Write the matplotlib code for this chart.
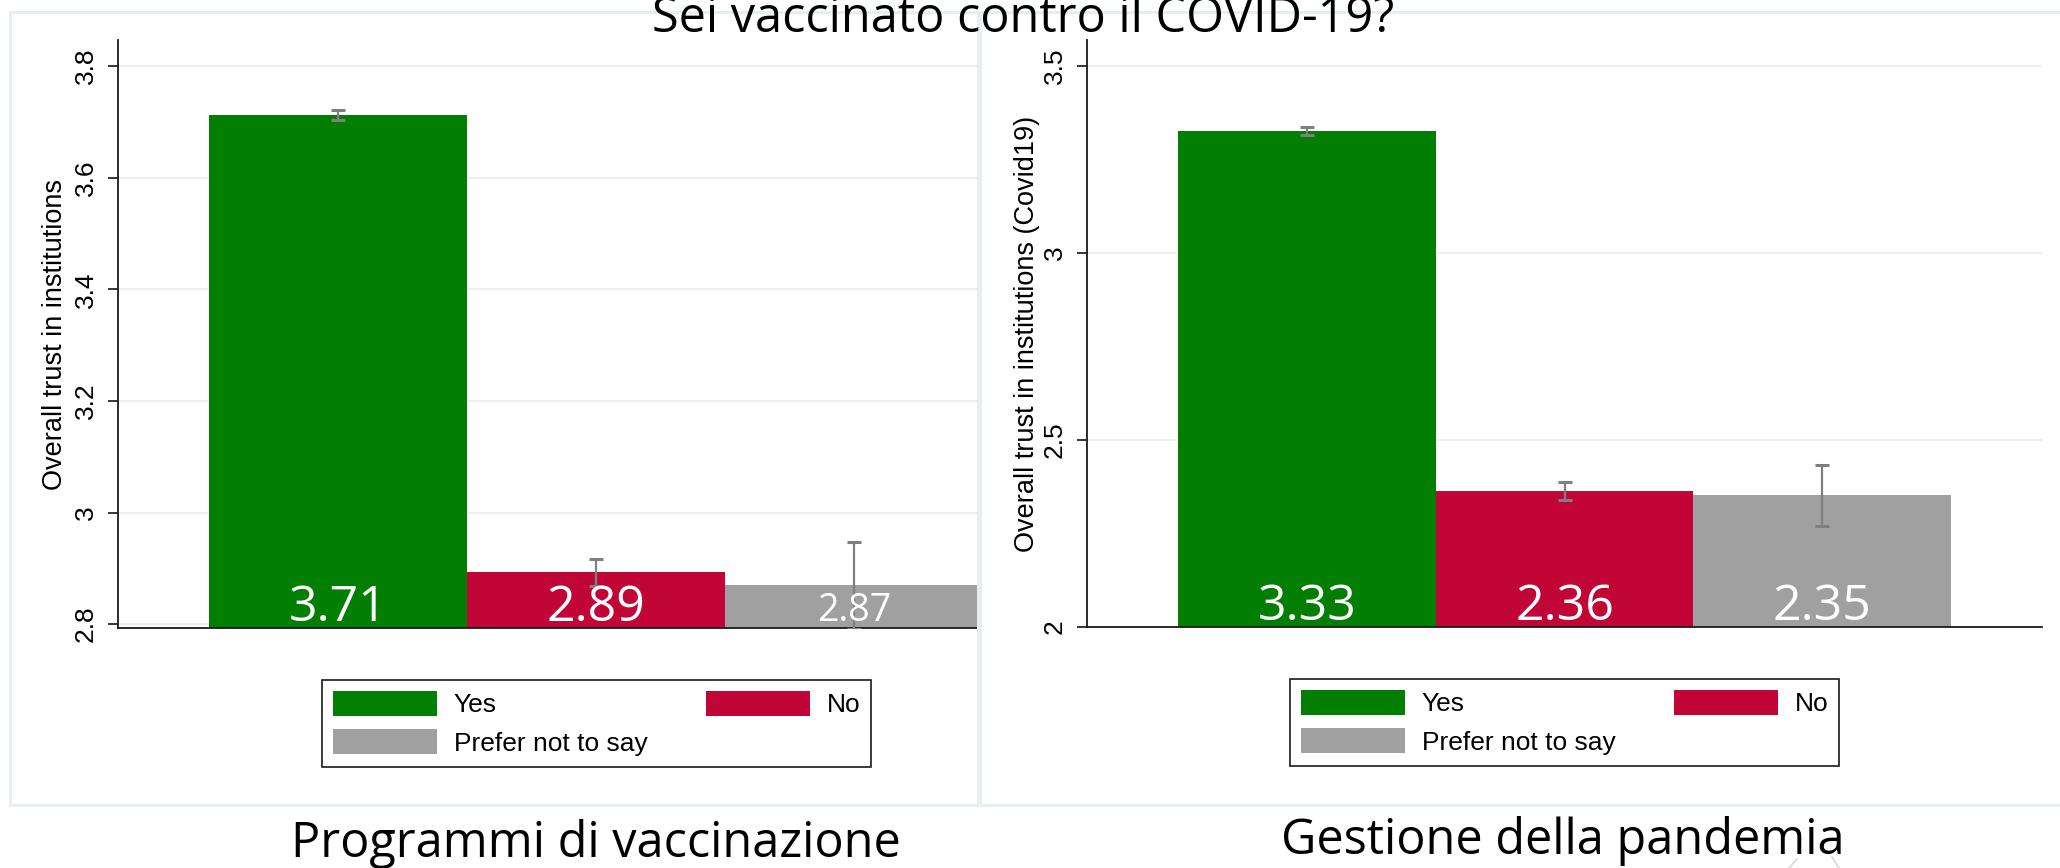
#!/usr/bin/env python3
import matplotlib
matplotlib.use("Agg")
import matplotlib.pyplot as plt
from matplotlib.patches import Patch, Rectangle
from matplotlib.lines import Line2D
from matplotlib.ticker import FuncFormatter

# ── DATA ─────────────────────────────────────────────────────────────────────
TITLE = "Sei vaccinato contro il COVID-19?"
GROUPS = ["Yes", "No", "Prefer not to say"]

VAX_TITLE = "Programmi di vaccinazione"
VAX_YLABEL = "Overall trust in institutions"
VAX_MEANS = [3.712, 2.893, 2.870]
VAX_CI = [0.009, 0.024, 0.078]
VAX_TICKS = [2.8, 3.0, 3.2, 3.4, 3.6, 3.8]

PAND_TITLE = "Gestione della pandemia"
PAND_YLABEL = "Overall trust in institutions (Covid19)"
PAND_MEANS = [3.327, 2.364, 2.352]
PAND_CI = [0.011, 0.024, 0.082]
PAND_TICKS = [2.0, 2.5, 3.0, 3.5]
# ─────────────────────────────────────────────────────────────────────────────

COLORS = ["#027f03", "#c10637", "#a0a0a0"]
W, H = 2060, 868
SANS = ["Liberation Sans", "DejaVu Sans"]
EC = ["Open Sans", "DejaVu Sans"]
FRAME = "#e6eef0"


def fx(px):
    return px / W


def fy(py):
    return 1 - py / H


def draw_panel(fig, box, means, ci, ticks, ylim, xlim, ylabel, ylabel_x,
               label_sizes, legend_xy):
    x0, y0, x1, y1 = box
    ax = fig.add_axes([fx(x0), fy(y1), fx(x1 - x0), (y1 - y0) / H])
    ax.set_facecolor("white")
    pos = list(range(len(means)))

    ax.bar(pos, means, width=1.0, color=COLORS, zorder=2)
    ax.errorbar(pos, means, yerr=ci, fmt="none", ecolor="#7f7f7f",
                elinewidth=1.6, capsize=4.7, capthick=2.2, zorder=3)

    # value labels sit at the foot of each bar
    for p, m, fs in zip(pos, means, label_sizes):
        ax.annotate(f"{m:.2f}", (p, 0), xycoords=("data", "axes fraction"),
                    xytext=(0, 5), textcoords="offset points",
                    ha="center", va="baseline", color="white",
                    fontsize=fs, family=EC, zorder=4, annotation_clip=False)

    ax.set_xlim(*xlim)
    ax.set_ylim(*ylim)
    ax.set_xticks([])
    ax.set_yticks(ticks)
    ax.yaxis.set_major_formatter(FuncFormatter(lambda v, _: f"{v:g}"))
    ax.tick_params(axis="y", direction="out", length=7.5, width=1.1,
                   pad=7, labelsize=19, labelrotation=90)
    for lab in ax.get_yticklabels():
        lab.set_family(SANS)
        lab.set_va("center")
    ax.grid(axis="y", color="#eaf0f2", linewidth=1.5, zorder=0)
    ax.set_axisbelow(True)
    for s in ["top", "right"]:
        ax.spines[s].set_visible(False)
    for s in ["left", "bottom"]:
        ax.spines[s].set_linewidth(1.3)
        ax.spines[s].set_color("#1a1a1a")

    ax.set_ylabel(ylabel, fontsize=19.5, family=SANS)
    ax.yaxis.label.set_va("center")
    ax.yaxis.set_label_coords((ylabel_x - x0) / (x1 - x0), 0.5)

    handles = [Patch(facecolor=COLORS[0]), Patch(facecolor=COLORS[2]),
               Patch(facecolor=COLORS[1])]
    labels = [GROUPS[0], GROUPS[2], GROUPS[1]]
    leg = ax.legend(handles, labels, loc="upper left",
                    bbox_to_anchor=(fx(legend_xy[0]), fy(legend_xy[1])),
                    bbox_transform=fig.transFigure, ncol=2,
                    prop={"family": SANS, "size": 19},
                    handlelength=3.94, handleheight=1.06, handletextpad=0.64,
                    columnspacing=2.2, labelspacing=0.45, borderpad=0.42,
                    borderaxespad=0, fancybox=False, framealpha=1)
    leg.get_frame().set_edgecolor("#1a1a1a")
    leg.get_frame().set_linewidth(1.2)
    return ax


def main():
    fig = plt.figure(figsize=(W / 100, H / 100), dpi=100)
    fig.patch.set_facecolor("white")

    # light panel frames
    fig.add_artist(Rectangle((fx(10), fy(805)), fx(968), (805 - 12) / H,
                             transform=fig.transFigure, fill=False,
                             edgecolor=FRAME, linewidth=2.2))
    fig.add_artist(Rectangle((fx(980), fy(805)), fx(1100), (805 - 12) / H,
                             transform=fig.transFigure, fill=False,
                             edgecolor=FRAME, linewidth=2.2))

    draw_panel(fig, (118, 40, 979, 628), VAX_MEANS, VAX_CI, VAX_TICKS,
               (2.793, 3.847), (-0.853, 2.484), VAX_YLABEL, 55,
               [36, 36, 27], (322, 680))
    draw_panel(fig, (1087, 40, 2042, 627), PAND_MEANS, PAND_CI, PAND_TICKS,
               (2.0, 3.57), (-0.854, 2.854), PAND_YLABEL, 1027,
               [36, 36, 36], (1290, 679))

    # overall question, its top runs off the edge as in the source
    fig.text(fx(1023), fy(32), TITLE, ha="center", va="baseline",
             fontsize=35, family=EC)
    fig.text(fx(596), fy(857), VAX_TITLE, ha="center", va="baseline",
             fontsize=35, family=EC)
    fig.text(fx(1563), fy(854), PAND_TITLE, ha="center", va="baseline",
             fontsize=35, family=EC)

    # faint mark peeking in at the bottom edge
    for xs, ys in [((1789, 1797), (868, 859)), ((1832, 1839), (857, 868))]:
        fig.add_artist(Line2D([fx(x) for x in xs], [fy(y) for y in ys],
                              transform=fig.transFigure, color="#d8d8d8",
                              linewidth=1.2))

    fig.savefig("out.png", dpi=100, facecolor="white")


if __name__ == "__main__":
    main()
